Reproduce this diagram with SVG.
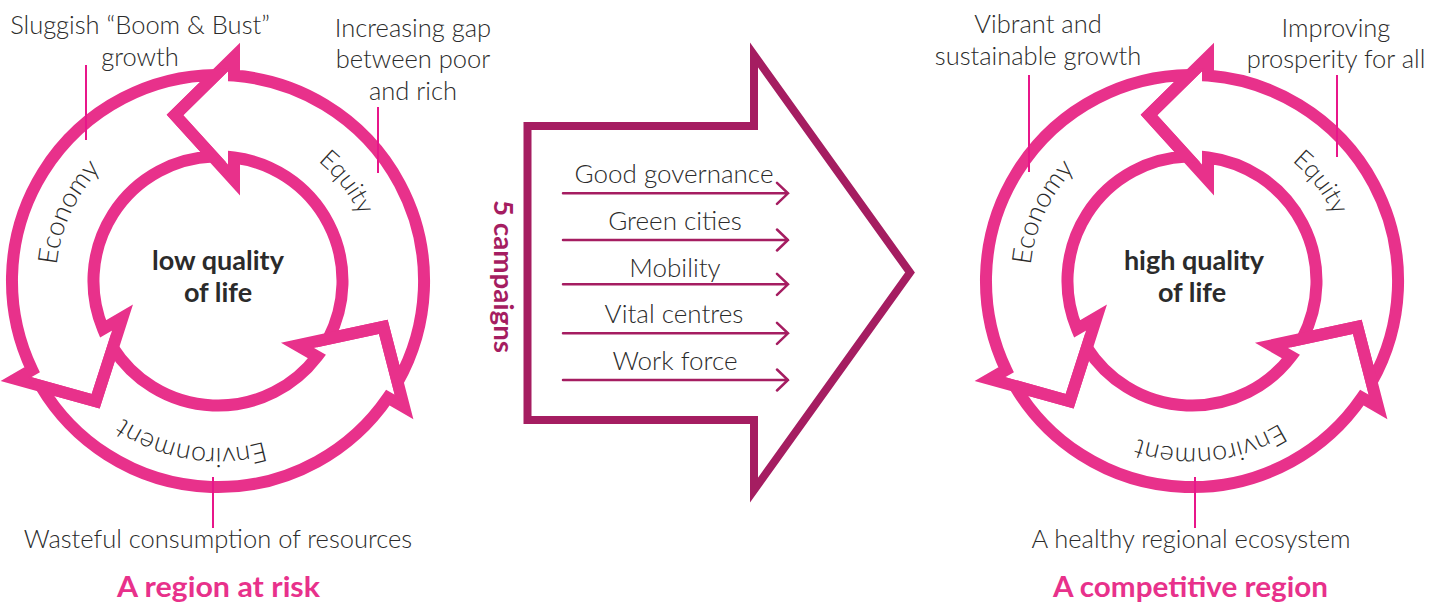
<svg xmlns="http://www.w3.org/2000/svg" xmlns:xlink="http://www.w3.org/1999/xlink" width="1441" height="603" viewBox="0 0 1441 603">
<style>
.ring{fill:none;stroke:#E8318B;stroke-width:12;stroke-linejoin:miter;stroke-miterlimit:6}
.callout{stroke:#E8168A;stroke-width:2;fill:none}
.t{font-family:Lato,'Liberation Sans',sans-serif;font-weight:300;font-size:25.5px;fill:#2b2b2b}
.c{text-anchor:middle}
.arc{font-size:27px}
.center{font-family:Lato,'Liberation Sans',sans-serif;font-weight:700;font-size:27px;fill:#2b2b2b;text-anchor:middle}
.title{font-family:Lato,'Liberation Sans',sans-serif;font-weight:700;font-size:28px;fill:#E8318B;text-anchor:middle}
.big{fill:none;stroke:#A51D61;stroke-width:8;stroke-linejoin:miter;stroke-miterlimit:10}
.camp{stroke:#A51D61;stroke-width:2.5;fill:none;stroke-linecap:round;stroke-linejoin:miter}
.lab{font-family:Lato,'Liberation Sans',sans-serif;font-weight:300;font-size:26px;fill:#2b2b2b;text-anchor:middle}
.five{font-family:Lato,'Liberation Sans',sans-serif;font-weight:700;font-size:27px;fill:#A51D61;text-anchor:middle}
</style>
<defs>
<path id="pL162" d="M 380 281 A 162 162 0 1 1 56 281 A 162 162 0 1 1 380 281"/>
<path id="pL156" d="M 374 281 A 156 156 0 1 1 62 281 A 156 156 0 1 1 374 281"/>
<path id="pL167" d="M 385 281 A 167 167 0 1 1 51 281 A 167 167 0 1 1 385 281"/>
<path id="pR162" d="M 1354 281 A 162 162 0 1 1 1030 281 A 162 162 0 1 1 1354 281"/>
<path id="pR156" d="M 1348 281 A 156 156 0 1 1 1036 281 A 156 156 0 1 1 1348 281"/>
<path id="pR167" d="M 1359 281 A 167 167 0 1 1 1025 281 A 167 167 0 1 1 1359 281"/>
</defs>

<g id="cycle-left">
  <g id="left-equity">
    <path class="ring" d="M 397.6 382 A 206 206 0 0 0 234 75.6 L 234 57 L 175 115 L 234 180 L 234 157.5 A 124.5 124.5 0 0 1 328.3 338.7 L 383.3 326.8 Z"/>
    <text class="t c"><textPath href="#pL156" xlink:href="#pL156" startOffset="877.8">Equity</textPath></text>
  </g>
  <g id="left-economy">
    <path class="ring" d="M 215.7 75 A 206 206 0 0 0 32.1 369.8 L 16 379.1 L 95.7 401.2 L 122.5 317.6 L 103.05 328.9 A 124.5 124.5 0 0 1 212.8 156.6 L 175 115 Z"/>
    <text class="t c arc"><textPath href="#pL162" xlink:href="#pL162" startOffset="578.5">Economy</textPath></text>
  </g>
  <g id="left-environment">
    <path class="ring" d="M 40.75 386 A 206 206 0 0 0 387.9 397.6 L 404 406.9 L 383.3 326.8 L 297.5 345.4 L 317 356.6 A 124.5 124.5 0 0 1 112.9 347.7 L 95.7 401.2 Z"/>
    <text class="t c arc"><textPath href="#pL167" xlink:href="#pL167" startOffset="289.4">Environment</textPath></text>
  </g>
  <g id="left-center">
    <text class="center" x="218" y="270">low quality</text>
    <text class="center" x="218" y="302">of life</text>
  </g>
  <g id="left-note-economy">
    <text class="t c" x="140" y="34">Sluggish “Boom &amp; Bust”</text>
    <text class="t c" x="140" y="66">growth</text>
  </g>
  <g id="left-note-equity">
    <text class="t c" x="413" y="37">Increasing gap</text>
    <text class="t c" x="413" y="68">between poor</text>
    <text class="t c" x="413" y="100">and rich</text>
  </g>
  <g id="left-note-environment">
    <text class="t c" x="218" y="548">Wasteful consumption of resources</text>
  </g>
  <g id="left-title">
    <text class="title" x="218.5" y="597" textLength="203" lengthAdjust="spacingAndGlyphs">A region at risk</text>
  </g>
</g>

<g id="campaigns">
  <path class="big" d="M 527.5 126 L 754 126 L 754 55 L 910 272.5 L 754 490 L 754 420 L 527.5 420 Z"/>
  <text class="five" transform="translate(494 276.5) rotate(90)" textLength="153" lengthAdjust="spacingAndGlyphs">5 campaigns</text>
  <g id="campaign-good-governance">
    <text class="lab" x="674" y="183">Good governance</text>
  </g>
  <g id="campaign-green-cities">
    <text class="lab" x="675" y="230">Green cities</text>
  </g>
  <g id="campaign-mobility">
    <text class="lab" x="675" y="277">Mobility</text>
  </g>
  <g id="campaign-vital-centres">
    <text class="lab" x="674" y="323">Vital centres</text>
  </g>
  <g id="campaign-work-force">
    <text class="lab" x="675" y="370">Work force</text>
  </g>
</g>

<g id="cycle-right">
  <g transform="translate(974 0)">
    <g id="right-equity"><path class="ring" d="M 397.6 382 A 206 206 0 0 0 234 75.6 L 234 57 L 175 115 L 234 180 L 234 157.5 A 124.5 124.5 0 0 1 328.3 338.7 L 383.3 326.8 Z"/></g>
    <g id="right-economy"><path class="ring" d="M 215.7 75 A 206 206 0 0 0 32.1 369.8 L 16 379.1 L 95.7 401.2 L 122.5 317.6 L 103.05 328.9 A 124.5 124.5 0 0 1 212.8 156.6 L 175 115 Z"/></g>
    <g id="right-environment"><path class="ring" d="M 40.75 386 A 206 206 0 0 0 387.9 397.6 L 404 406.9 L 383.3 326.8 L 297.5 345.4 L 317 356.6 A 124.5 124.5 0 0 1 112.9 347.7 L 95.7 401.2 Z"/></g>
  </g>
  <text class="t c"><textPath href="#pR156" xlink:href="#pR156" startOffset="877.8">Equity</textPath></text>
  <text class="t c arc"><textPath href="#pR162" xlink:href="#pR162" startOffset="578.5">Economy</textPath></text>
  <text class="t c arc"><textPath href="#pR167" xlink:href="#pR167" startOffset="243.7">Environment</textPath></text>
  <g id="right-center">
    <text class="center" x="1194" y="270">high quality</text>
    <text class="center" x="1192" y="302">of life</text>
  </g>
  <g id="right-note-economy">
    <text class="t c" x="1038" y="33">Vibrant and</text>
    <text class="t c" x="1038" y="65">sustainable growth</text>
  </g>
  <g id="right-note-equity">
    <text class="t c" x="1336" y="37">Improving</text>
    <text class="t c" x="1336" y="68">prosperity for all</text>
  </g>
  <g id="right-note-environment">
    <text class="t c" x="1191" y="548">A healthy regional ecosystem</text>
  </g>
  <g id="right-title">
    <text class="title" x="1190.5" y="597" textLength="275" lengthAdjust="spacingAndGlyphs">A competitive region</text>
  </g>
</g>

<g id="connectors">
  <line class="callout" x1="86" y1="65" x2="86" y2="140"/>
  <line class="callout" x1="378" y1="107" x2="378" y2="173"/>
  <line class="callout" x1="213" y1="477" x2="213" y2="528"/>
  <line class="callout" x1="1029" y1="75" x2="1029" y2="172"/>
  <line class="callout" x1="1337" y1="75" x2="1337" y2="157"/>
  <line class="callout" x1="1195" y1="477" x2="1195" y2="528"/>
  <path class="camp" d="M 563 193.3 H 788 M 777 182.8 L 788 193.3 L 777 203.8"/>
  <path class="camp" d="M 563 240 H 788 M 777 229.5 L 788 240 L 777 250.5"/>
  <path class="camp" d="M 563 284.3 H 788 M 777 273.8 L 788 284.3 L 777 294.8"/>
  <path class="camp" d="M 563 333.3 H 788 M 777 322.8 L 788 333.3 L 777 343.8"/>
  <path class="camp" d="M 563 380 H 788 M 777 369.5 L 788 380 L 777 390.5"/>
</g>
</svg>
